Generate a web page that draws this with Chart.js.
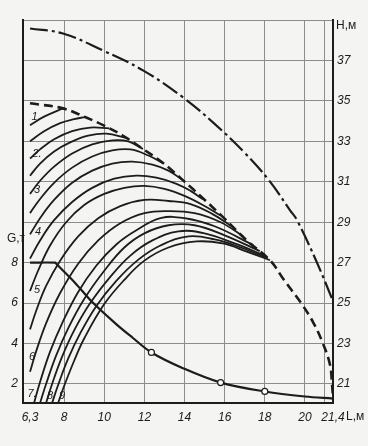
<!DOCTYPE html>
<html><head><meta charset="utf-8">
<script src="https://cdn.jsdelivr.net/npm/chart.js@4.4.1/dist/chart.umd.min.js"></script>
<style>html,body{margin:0;padding:0;background:#f4f4f2;}canvas{display:block;}</style>
</head><body>
<canvas id="c" width="368" height="446"></canvas>
<script>
// ---- tick labels ----
const xTicks = [6.3, 8, 10, 12, 14, 16, 18, 20, 21, 21.4];
const xTickLabels = ['6,3', '8', '10', '12', '14', '16', '18', '20', '', '21,4'];
const hTicks = [21, 23, 25, 27, 29, 31, 33, 35, 37, 39];
const hTickLabels = ['21', '23', '25', '27', '29', '31', '33', '35', '37', ''];
const gTicks = [2, 4, 6, 8];
const gTickLabels = ['2', '4', '6', '8'];

// ---- series: [L (m), H (m)] ----
const topCurve = [[6.3,38.58],[7.94,38.33],[9.94,37.49],[11.93,36.51],[13.93,35.17],[15.47,33.89],[16.97,32.46],[18.21,31.07],[19.26,29.59],[19.61,29.1],[20.61,26.98],[21.4,25.1]];
const envelope = [[6.3,34.88],[7.94,34.63],[9.04,34.2],[9.94,33.8],[10.9,33.3],[11.93,32.62],[12.9,31.95],[13.93,31.07],[14.9,30.2],[15.92,29.25],[17.1,28.1],[18.26,27.12],[18.96,26.14],[19.81,25.0],[20.41,24.05],[20.9,23.0],[21.25,21.95],[21.35,21.0],[21.4,20.3]];

const c1 = [[6.3,33.8],[7.0,34.22],[7.94,34.63]];
const c2 = [[6.3,33.0],[7.0,33.5],[7.8,33.9],[8.5,34.1],[9.04,34.2]];
const c3 = [[6.3,32.15],[6.8,32.6],[7.5,33.1],[8.4,33.5],[9.3,33.68],[10.25,33.64]];
const c4 = [[6.3,31.3],[6.8,31.9],[7.5,32.5],[8.3,32.95],[9.2,33.28],[10.1,33.38],[11.1,33.17]];
const c5 = [[6.3,30.4],[6.8,31.05],[7.5,31.75],[8.4,32.4],[9.4,32.85],[10.4,33.05],[11.2,33.0],[11.93,32.62]];
const c6 = [[6.3,29.45],[6.8,30.15],[7.5,30.95],[8.4,31.7],[9.4,32.25],[10.4,32.55],[11.3,32.6],[12.2,32.3],[12.93,31.92]];
const c7 = [[6.3,28.4],[6.8,29.2],[7.5,30.1],[8.4,30.95],[9.4,31.55],[10.4,31.9],[11.4,32.0],[12.4,31.85],[13.2,31.55],[13.93,31.07]];
const c8 = [[6.3,27.2],[6.8,28.1],[7.5,29.1],[8.4,30.0],[9.4,30.7],[10.5,31.15],[11.6,31.3],[12.6,31.2],[13.6,30.9],[14.3,30.55],[14.92,30.13]];
const c9 = [[6.3,25.6],[6.7,26.6],[7.3,27.85],[8.1,29.0],[9.0,29.85],[10.0,30.4],[11.0,30.7],[12.0,30.8],[13.0,30.65],[14.0,30.3],[15.0,29.8],[15.77,29.34]];
const c10 = [[6.3,23.7],[6.6,24.6],[7.1,25.85],[7.8,27.1],[8.7,28.3],[9.7,29.2],[10.8,29.8],[12.0,30.1],[13.2,30.05],[14.3,29.9],[15.4,29.4],[16.42,28.76]];
const c11 = [[6.3,21.6],[6.6,22.6],[7.1,24.0],[7.8,25.5],[8.7,26.95],[9.7,28.1],[10.8,28.95],[12.0,29.45],[13.2,29.55],[14.5,29.45],[15.8,29.0],[16.92,28.31]];
const c12 = [[6.5,20.06],[6.8,21.1],[7.3,22.6],[7.9,24.0],[8.7,25.55],[9.6,26.85],[10.6,27.9],[11.6,28.6],[12.8,29.2],[14.0,29.2],[15.5,28.8],[17.42,27.87]];
const c13 = [[6.8,20.06],[7.1,21.0],[7.6,22.4],[8.2,23.75],[9.0,25.2],[10.0,26.6],[11.0,27.75],[12.0,28.45],[13.2,28.85],[14.5,28.85],[16.0,28.35],[17.75,27.57]];
const c14 = [[7.1,20.06],[7.4,21.0],[7.9,22.35],[8.5,23.65],[9.3,25.0],[10.3,26.3],[11.3,27.35],[12.4,28.1],[13.7,28.55],[15.0,28.45],[16.5,27.95],[18.0,27.35]];
const c15 = [[7.4,20.06],[7.7,20.95],[8.2,22.25],[8.8,23.5],[9.6,24.85],[10.6,26.1],[11.7,27.15],[12.8,27.85],[14.2,28.3],[15.5,28.15],[16.8,27.75],[18.15,27.22]];
const c16 = [[7.7,20.06],[8.0,20.9],[8.5,22.15],[9.0,23.25],[10.0,24.95],[11.0,26.15],[12.0,27.1],[13.2,27.75],[14.6,28.05],[15.9,27.95],[17.1,27.55],[18.26,27.12]];
const familyCurves = [c1,c2,c3,c4,c5,c6,c7,c8,c9,c10,c11,c12,c13,c14,c15,c16];

// ---- load curve: [L (m), G (t)] ----
const loadCurve = [[6.3,8],[7.55,8],[7.62,7.93],[8.55,7.0],[9.4,6.05],[10.55,5.0],[11.4,4.3],[12.35,3.56],[13.95,2.77],[15.8,2.07],[18.0,1.63],[20.0,1.38],[21.4,1.28]];
const loadMarkers = [12.35, 15.8, 18.0];

// ---- curve number labels, anchored in data units [L, H] ----
const curveLabels = ['1.', '2.', '3', '4', '5', '6', '7.', '8', '9'];
const curveLabelL = [6.6, 6.65, 6.65, 6.7, 6.65, 6.4, 6.4, 7.3, 7.9];
const curveLabelH = [34.23, 32.36, 30.58, 28.5, 25.64, 22.33, 20.5, 20.4, 20.4];

const ink = '#1c1c1c';
const paper = '#f4f4f2';
const gridCol = '#8c8c8c';
const tickFont = {family: '"Liberation Sans", Arial, sans-serif', size: 12, style: 'italic'};
const toXY = arr => arr.map(p => ({x: p[0], y: p[1]}));

const datasets = [];
familyCurves.forEach(cv => datasets.push({
  data: toXY(cv), yAxisID: 'h', borderColor: ink, borderWidth: 1.8,
  pointRadius: 0, tension: 0.4, fill: false
}));
datasets.push({data: toXY(envelope), yAxisID: 'h', borderColor: ink, borderWidth: 2.6,
  borderDash: [9, 5], pointRadius: 0, tension: 0.4, fill: false});
datasets.push({data: toXY(topCurve), yAxisID: 'h', borderColor: ink, borderWidth: 2.2,
  borderDash: [18, 4, 3, 4], pointRadius: 0, tension: 0.4, fill: false});
datasets.push({data: toXY(loadCurve), yAxisID: 'g', borderColor: ink, borderWidth: 2.2,
  tension: 0.35, fill: false,
  pointRadius: ctx => loadMarkers.includes(loadCurve[ctx.dataIndex][0]) ? 3 : 0,
  pointBackgroundColor: '#ffffff', pointBorderColor: ink, pointBorderWidth: 1.2});

const paperPlugin = {
  id: 'paper',
  beforeDraw(chart) {
    const c = chart.ctx; c.save(); c.fillStyle = paper;
    c.fillRect(0, 0, chart.width, chart.height); c.restore();
  }
};
const textPlugin = {
  id: 'texts',
  afterDraw(chart) {
    const c = chart.ctx, a = chart.chartArea;
    const x = chart.scales.x, h = chart.scales.h, g = chart.scales.g;
    c.save();
    c.fillStyle = ink;
    c.font = 'italic 11px "Liberation Sans", Arial, sans-serif';
    c.textAlign = 'center'; c.textBaseline = 'middle';
    curveLabels.forEach((t, i) => {
      c.fillText(t, x.getPixelForValue(curveLabelL[i]), h.getPixelForValue(curveLabelH[i]));
    });
    c.font = '12px "Liberation Sans", Arial, sans-serif';
    c.textAlign = 'left';
    c.fillText('H,м', a.right + 3, a.top + 6);
    c.fillText('L,м', a.right + 13, a.bottom + 14);
    c.textAlign = 'center';
    c.fillText('G,т', 16, g.getPixelForValue(8) - 24);
    c.restore();
  }
};

new Chart(document.getElementById('c'), {
  type: 'line',
  data: {datasets},
  plugins: [paperPlugin, textPlugin],
  options: {
    responsive: false, animation: false, devicePixelRatio: 1,
    layout: {padding: {top: 20, left: 0, right: 0, bottom: 0}},
    plugins: {legend: {display: false}, tooltip: {enabled: false}},
    scales: {
      x: {
        type: 'linear', position: 'bottom', min: 5.95, max: 21.4,
        afterBuildTicks: s => { s.ticks = xTicks.map(v => ({value: v})); },
        afterFit: s => { s.height = 43; },
        ticks: {autoSkip: false, maxRotation: 0, padding: 7, color: ink, font: tickFont,
          callback: v => xTickLabels[xTicks.indexOf(v)]},
        grid: {color: ctx => (ctx.tick && ctx.tick.value === 6.3) ? 'rgba(0,0,0,0)' : gridCol,
          lineWidth: 1, drawTicks: false, tickLength: 0},
        border: {color: ink, width: 2}
      },
      g: {
        type: 'linear', position: 'left', min: 1.06, max: 20,
        afterBuildTicks: s => { s.ticks = gTicks.map(v => ({value: v})); },
        afterFit: s => { s.width = 23; },
        ticks: {padding: 5, color: ink, font: tickFont,
          callback: v => gTickLabels[gTicks.indexOf(v)]},
        grid: {drawOnChartArea: false, drawTicks: false, tickLength: 0},
        border: {color: ink, width: 2}
      },
      h: {
        type: 'linear', position: 'right', min: 20.06, max: 39,
        afterBuildTicks: s => { s.ticks = hTicks.map(v => ({value: v})); },
        afterFit: s => { s.width = 35; },
        ticks: {padding: 4, color: ink, font: tickFont,
          callback: v => hTickLabels[hTicks.indexOf(v)]},
        grid: {color: gridCol, lineWidth: 1, drawTicks: false, tickLength: 0},
        border: {color: ink, width: 2}
      }
    }
  }
});
</script>
</body></html>
